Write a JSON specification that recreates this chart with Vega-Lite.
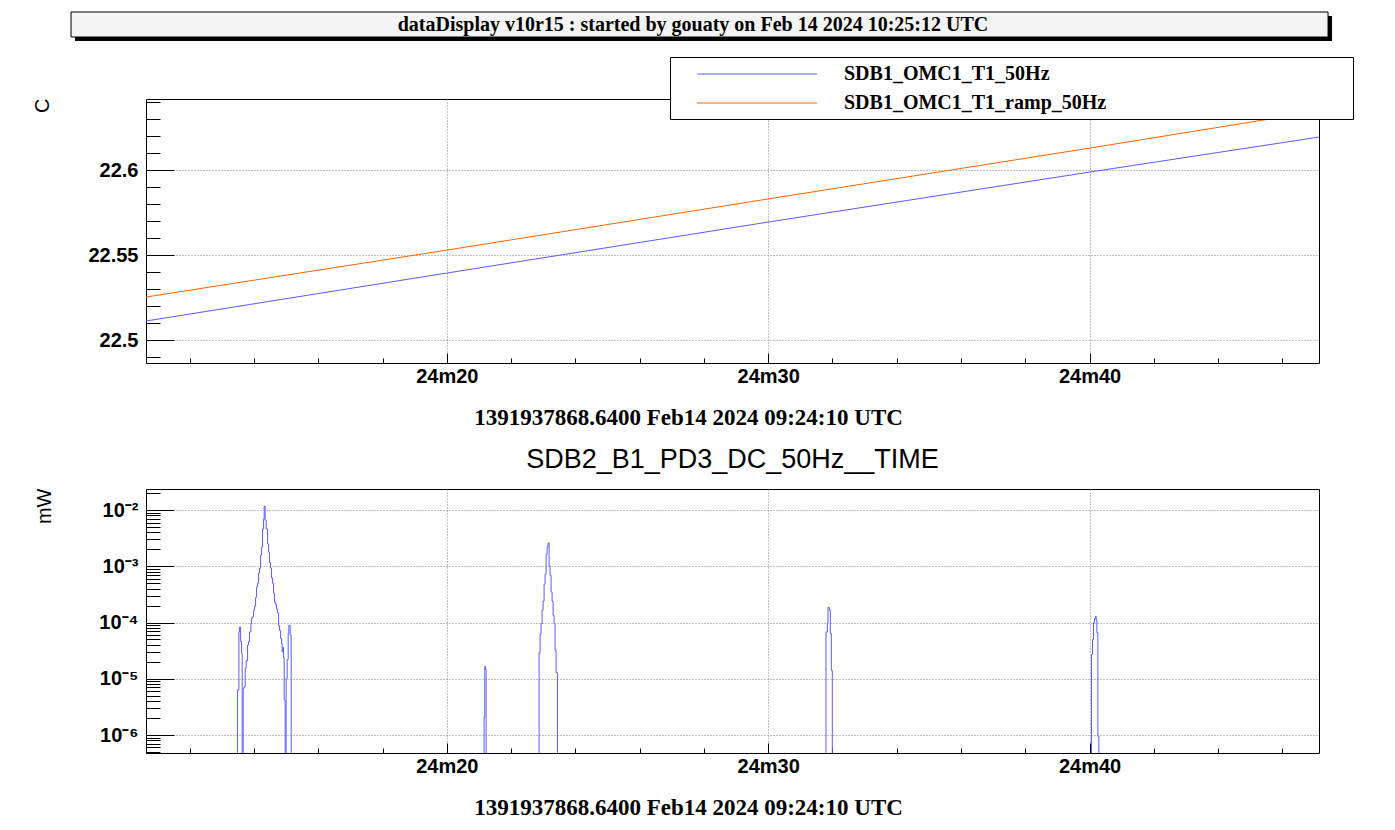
{
  "$schema": "https://vega.github.io/schema/vega-lite/v6.json",
  "background": "white",
  "padding": {"left": 31, "top": 11, "right": 0, "bottom": 0},
  "spacing": 15,
  "resolve": {"scale": {"color": "independent"}, "legend": {"color": "independent"}},
  "config": {
    "font": "Liberation Sans",
    "view": {"stroke": "black", "strokeWidth": 1},
    "axis": {"domain": false, "tickColor": "black", "tickWidth": 1, "labelColor": "black", "titleColor": "black", "labelOverlap": false, "labelFlush": false, "labelBound": false}
  },
  "datasets": {
    "top": [
      {"series": "SDB1_OMC1_T1_50Hz", "t": 10.64, "value": 22.5112},
      {"series": "SDB1_OMC1_T1_50Hz", "t": 20, "value": 22.5394},
      {"series": "SDB1_OMC1_T1_50Hz", "t": 30, "value": 22.5694},
      {"series": "SDB1_OMC1_T1_50Hz", "t": 40, "value": 22.5988},
      {"series": "SDB1_OMC1_T1_50Hz", "t": 47.14, "value": 22.6194},
      {"series": "SDB1_OMC1_T1_ramp_50Hz", "t": 10.64, "value": 22.5253},
      {"series": "SDB1_OMC1_T1_ramp_50Hz", "t": 20, "value": 22.5529},
      {"series": "SDB1_OMC1_T1_ramp_50Hz", "t": 30, "value": 22.583},
      {"series": "SDB1_OMC1_T1_ramp_50Hz", "t": 40, "value": 22.6129},
      {"series": "SDB1_OMC1_T1_ramp_50Hz", "t": 47.14, "value": 22.6347}
    ],
    "bottom": [
      {"t": 10.64, "v": 1e-9},
      {"t": 13.484, "v": 6.3e-6},
      {"t": 13.531, "v": 6.8e-5},
      {"t": 13.547, "v": 8.3e-5},
      {"t": 13.584, "v": 4.6e-5},
      {"t": 13.614, "v": 2.9e-5},
      {"t": 13.633, "v": 1e-9},
      {"t": 13.664, "v": 6.8e-6},
      {"t": 13.695, "v": 7.2e-6},
      {"t": 13.726, "v": 1.55e-5},
      {"t": 13.757, "v": 2.1e-5},
      {"t": 13.801, "v": 4.0e-5},
      {"t": 13.832, "v": 4.6e-5},
      {"t": 13.863, "v": 6.8e-5},
      {"t": 13.904, "v": 9.8e-5},
      {"t": 13.925, "v": 1.2e-4},
      {"t": 13.956, "v": 1.26e-4},
      {"t": 13.988, "v": 1.66e-4},
      {"t": 14.019, "v": 1.95e-4},
      {"t": 14.05, "v": 2.8e-4},
      {"t": 14.081, "v": 4.3e-4},
      {"t": 14.112, "v": 5.0e-4},
      {"t": 14.143, "v": 7.6e-4},
      {"t": 14.174, "v": 9.3e-4},
      {"t": 14.205, "v": 1.58e-3},
      {"t": 14.236, "v": 2.2e-3},
      {"t": 14.267, "v": 4.6e-3},
      {"t": 14.299, "v": 6.9e-3},
      {"t": 14.317, "v": 1.17e-2},
      {"t": 14.348, "v": 6.6e-3},
      {"t": 14.379, "v": 4.6e-3},
      {"t": 14.423, "v": 2.5e-3},
      {"t": 14.454, "v": 1.78e-3},
      {"t": 14.485, "v": 1.17e-3},
      {"t": 14.516, "v": 9.3e-4},
      {"t": 14.547, "v": 6.2e-4},
      {"t": 14.578, "v": 5.0e-4},
      {"t": 14.61, "v": 3.3e-4},
      {"t": 14.641, "v": 2.3e-4},
      {"t": 14.672, "v": 2.1e-4},
      {"t": 14.703, "v": 1.74e-4},
      {"t": 14.734, "v": 1.48e-4},
      {"t": 14.765, "v": 8.9e-5},
      {"t": 14.796, "v": 7.2e-5},
      {"t": 14.827, "v": 5.2e-5},
      {"t": 14.858, "v": 4.2e-5},
      {"t": 14.877, "v": 3.0e-5},
      {"t": 14.899, "v": 3.6e-5},
      {"t": 14.921, "v": 2.4e-5},
      {"t": 14.939, "v": 4.2e-6},
      {"t": 14.97, "v": 1e-9},
      {"t": 15.001, "v": 1.02e-5},
      {"t": 15.033, "v": 2.2e-5},
      {"t": 15.064, "v": 6.5e-5},
      {"t": 15.086, "v": 8.9e-5},
      {"t": 15.126, "v": 6.0e-5},
      {"t": 15.157, "v": 1e-9},
      {"t": 21.161, "v": 2.1e-6},
      {"t": 21.182, "v": 1.66e-5},
      {"t": 21.203, "v": 1.48e-5},
      {"t": 21.224, "v": 1e-9},
      {"t": 22.872, "v": 2.9e-5},
      {"t": 22.903, "v": 6.2e-5},
      {"t": 22.934, "v": 9.5e-5},
      {"t": 22.965, "v": 1.66e-4},
      {"t": 22.996, "v": 2.4e-4},
      {"t": 23.027, "v": 4.8e-4},
      {"t": 23.058, "v": 7.2e-4},
      {"t": 23.09, "v": 1.63e-3},
      {"t": 23.121, "v": 2.2e-3},
      {"t": 23.152, "v": 2.6e-3},
      {"t": 23.183, "v": 1.0e-3},
      {"t": 23.214, "v": 6.9e-4},
      {"t": 23.245, "v": 3.5e-4},
      {"t": 23.276, "v": 2.4e-4},
      {"t": 23.307, "v": 1.35e-4},
      {"t": 23.338, "v": 9.5e-5},
      {"t": 23.369, "v": 3.2e-5},
      {"t": 23.401, "v": 1.29e-5},
      {"t": 23.442, "v": 1e-9},
      {"t": 31.799, "v": 6.8e-5},
      {"t": 31.841, "v": 1.0e-4},
      {"t": 31.862, "v": 1.86e-4},
      {"t": 31.903, "v": 1.66e-4},
      {"t": 31.934, "v": 6.4e-5},
      {"t": 31.965, "v": 1.41e-5},
      {"t": 31.996, "v": 1e-9},
      {"t": 40.062, "v": 2.7e-5},
      {"t": 40.093, "v": 5.0e-5},
      {"t": 40.124, "v": 1.0e-4},
      {"t": 40.156, "v": 1.18e-4},
      {"t": 40.187, "v": 1.29e-4},
      {"t": 40.207, "v": 1.1e-4},
      {"t": 40.228, "v": 6.6e-5},
      {"t": 40.259, "v": 9.5e-7},
      {"t": 40.29, "v": 1e-9},
      {"t": 47.14, "v": 1e-9}
    ]
  },
  "vconcat": [
    {
      "width": 1173,
      "height": 25,
      "view": {"stroke": null},
      "data": {"values": [{}]},
      "layer": [
        {
          "mark": {"type": "rect", "fill": "black", "xOffset": 4, "x2Offset": 4, "yOffset": 4, "y2Offset": 4},
          "encoding": {
            "x": {"datum": -0.0639, "type": "quantitative", "scale": {"domain": [0, 1], "nice": false}, "axis": null},
            "x2": {"datum": 1.0077},
            "y": {"datum": 0, "type": "quantitative", "scale": {"domain": [0, 1], "nice": false}, "axis": null},
            "y2": {"datum": 1}
          }
        },
        {
          "mark": {"type": "rect", "fill": "#f4f4f4", "stroke": "black", "strokeWidth": 1},
          "encoding": {
            "x": {"datum": -0.0639, "type": "quantitative"},
            "x2": {"datum": 1.0077},
            "y": {"datum": 0, "type": "quantitative"},
            "y2": {"datum": 1}
          }
        },
        {
          "mark": {"type": "text", "font": "Liberation Serif", "fontWeight": "bold", "fontSize": 20, "align": "center", "baseline": "middle", "color": "black"},
          "encoding": {
            "x": {"datum": 0.4663, "type": "quantitative"},
            "y": {"datum": 0.5, "type": "quantitative"},
            "text": {"value": "dataDisplay v10r15 : started by gouaty on Feb 14 2024 10:25:12 UTC"}
          }
        }
      ]
    },
    {
      "width": 1173,
      "height": 264,
      "data": {"name": "top"},
      "mark": {"type": "line", "strokeWidth": 1, "clip": true},
      "encoding": {
        "x": {
          "field": "t", "type": "quantitative",
          "scale": {"domain": [10.64, 47.14], "nice": false, "zero": false},
          "axis": {
            "values": [12, 14, 16, 18, 20, 22, 24, 26, 28, 30, 32, 34, 36, 38, 40, 42, 44, 46],
            "labelExpr": "datum.value % 10 === 0 ? '24m' + datum.value : ''",
            "labelFont": "Liberation Sans", "labelFontWeight": "bold", "labelFontSize": 20,
            "labelBaseline": "top", "labelPadding": 13,
            "tickSize": {"condition": {"test": "datum.value % 10 === 0", "value": -10}, "value": -5},
            "grid": true, "gridColor": "#808080", "gridDash": [1, 2],
            "gridOpacity": {"condition": {"test": "datum.value % 10 === 0", "value": 1}, "value": 0},
            "title": "1391937868.6400 Feb14 2024 09:24:10 UTC",
            "titleFont": "Liberation Serif", "titleFontWeight": "bold", "titleFontSize": 23,
            "titleAlign": "center", "titleBaseline": "alphabetic", "titleX": 542, "titleY": 61
          }
        },
        "y": {
          "field": "value", "type": "quantitative",
          "scale": {"domain": [22.4865, 22.6418], "nice": false, "zero": false},
          "axis": {
            "values": [22.49, 22.5, 22.51, 22.52, 22.53, 22.54, 22.55, 22.56, 22.57, 22.58, 22.59, 22.6, 22.61, 22.62, 22.63, 22.64],
            "labelExpr": "abs(datum.value*20 - round(datum.value*20)) < 1e-6 ? '' + datum.value : ''",
            "labelFont": "Liberation Sans", "labelFontWeight": "bold", "labelFontSize": 20,
            "labelPadding": 36,
            "tickSize": {"condition": {"test": "abs(datum.value*20 - round(datum.value*20)) < 1e-6", "value": -28}, "value": -14},
            "grid": true, "gridColor": "#808080", "gridDash": [1, 2],
            "gridOpacity": {"condition": {"test": "abs(datum.value*20 - round(datum.value*20)) < 1e-6", "value": 1}, "value": 0},
            "title": "C", "titleFont": "Liberation Sans", "titleFontWeight": "normal", "titleFontSize": 20,
            "titleAngle": -90, "titleAlign": "right", "titleBaseline": "alphabetic", "titleX": -98, "titleY": -1
          }
        },
        "color": {
          "field": "series", "type": "nominal",
          "scale": {"domain": ["SDB1_OMC1_T1_50Hz", "SDB1_OMC1_T1_ramp_50Hz"], "range": ["#5c5cff", "#ff6600"]},
          "legend": {
            "orient": "none", "legendX": 524, "legendY": -42, "title": null,
            "symbolType": "M-6,0H6", "symbolSize": 400, "symbolStrokeWidth": 1.2,
            "symbolOffset": 70,
            "labelFont": "Liberation Serif", "labelFontWeight": "bold", "labelFontSize": 20, "labelColor": "black",
            "labelOffset": 76, "labelLimit": 900,
            "labelExpr": "datum.label + '\u00a0\u00a0\u00a0\u00a0\u00a0\u00a0\u00a0\u00a0\u00a0\u00a0\u00a0\u00a0\u00a0\u00a0\u00a0\u00a0\u00a0\u00a0\u00a0\u00a0\u00a0\u00a0\u00a0\u00a0\u00a0\u00a0\u00a0\u00a0\u00a0\u00a0\u00a0\u00a0\u00a0\u00a0\u00a0\u00a0\u00a0\u00a0\u00a0\u00a0\u00a0\u00a0\u00a0\u00a0\u00a0\u00a0\u00a0\u00a0\u200b'",
            "padding": 6, "rowPadding": 8,
            "strokeColor": "black", "fillColor": "white"
          }
        }
      }
    },
    {
      "width": 1173,
      "height": 264,
      "title": {"text": "SDB2_B1_PD3_DC_50Hz__TIME", "font": "Liberation Sans", "fontSize": 27, "fontWeight": "normal", "anchor": "middle", "color": "black", "offset": 9},
      "data": {"name": "bottom"},
      "mark": {"type": "line", "interpolate": "step-after", "clip": true, "color": "#5c5cff", "strokeWidth": 1},
      "encoding": {
        "x": {
          "field": "t", "type": "quantitative",
          "scale": {"domain": [10.64, 47.14], "nice": false, "zero": false},
          "axis": {
            "values": [12, 14, 16, 18, 20, 22, 24, 26, 28, 30, 32, 34, 36, 38, 40, 42, 44, 46],
            "labelExpr": "datum.value % 10 === 0 ? '24m' + datum.value : ''",
            "labelFont": "Liberation Sans", "labelFontWeight": "bold", "labelFontSize": 20,
            "labelBaseline": "top", "labelPadding": 13,
            "tickSize": {"condition": {"test": "datum.value % 10 === 0", "value": -10}, "value": -5},
            "grid": true, "gridColor": "#808080", "gridDash": [1, 2],
            "gridOpacity": {"condition": {"test": "datum.value % 10 === 0", "value": 1}, "value": 0},
            "title": "1391937868.6400 Feb14 2024 09:24:10 UTC",
            "titleFont": "Liberation Serif", "titleFontWeight": "bold", "titleFontSize": 23,
            "titleAlign": "center", "titleBaseline": "alphabetic", "titleX": 542, "titleY": 61
          }
        },
        "y": {
          "field": "v", "type": "quantitative",
          "scale": {"type": "log", "domain": [4.79e-7, 0.02366], "nice": false},
          "axis": {
            "values": [5e-7, 6e-7, 7e-7, 8e-7, 9e-7, 1e-6, 2e-6, 3e-6, 4e-6, 5e-6, 6e-6, 7e-6, 8e-6, 9e-6, 1e-5, 2e-5, 3e-5, 4e-5, 5e-5, 6e-5, 7e-5, 8e-5, 9e-5, 1e-4, 2e-4, 3e-4, 4e-4, 5e-4, 6e-4, 7e-4, 8e-4, 9e-4, 1e-3, 2e-3, 3e-3, 4e-3, 5e-3, 6e-3, 7e-3, 8e-3, 9e-3, 1e-2, 2e-2],
            "labelExpr": "abs(log(datum.value)/LN10 - round(log(datum.value)/LN10)) < 1e-6 ? (round(log(datum.value)/LN10) == -2 ? '10\u207b\u00b2' : round(log(datum.value)/LN10) == -3 ? '10\u207b\u00b3' : round(log(datum.value)/LN10) == -4 ? '10\u207b\u2074' : round(log(datum.value)/LN10) == -5 ? '10\u207b\u2075' : '10\u207b\u2076') : ''",
            "labelFont": "Liberation Sans", "labelFontWeight": "bold", "labelFontSize": 20,
            "labelPadding": 36,
            "tickSize": {"condition": {"test": "abs(log(datum.value)/LN10 - round(log(datum.value)/LN10)) < 1e-6", "value": -28}, "value": -14},
            "grid": true, "gridColor": "#808080", "gridDash": [1, 2],
            "gridOpacity": {"condition": {"test": "abs(log(datum.value)/LN10 - round(log(datum.value)/LN10)) < 1e-6", "value": 1}, "value": 0},
            "title": "mW", "titleFont": "Liberation Sans", "titleFontWeight": "normal", "titleFontSize": 20,
            "titleAngle": -90, "titleAlign": "right", "titleBaseline": "alphabetic", "titleX": -96, "titleY": -1
          }
        }
      }
    }
  ]
}
